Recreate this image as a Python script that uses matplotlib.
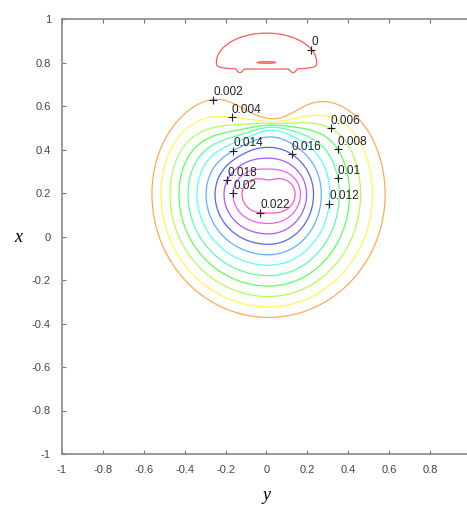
import numpy as np
import matplotlib
matplotlib.use("Agg")
import matplotlib.pyplot as plt
import matplotlib.ticker as mticker

plt.rcParams['font.family'] = ['Liberation Sans', 'DejaVu Sans']
plt.rcParams['axes.unicode_minus'] = False

# contour levels shown in the figure
levels = [0, 0.002, 0.004, 0.006, 0.008, 0.010, 0.012, 0.014, 0.016, 0.018, 0.020, 0.022]
level_text = ['0', '0.002', '0.004', '0.006', '0.008', '0.01', '0.012',
              '0.014', '0.016', '0.018', '0.02', '0.022']

# where each label sits (horizontal y, vertical x)
label_y = [0.22, -0.26, -0.17, 0.32, 0.36, 0.36, 0.31, -0.17, 0.13, -0.21, -0.17, -0.03]
label_x = [0.86, 0.63, 0.55, 0.51, 0.41, 0.27, 0.15, 0.41, 0.39, 0.27, 0.20, 0.12]

# level curves, per side: right, left, top, bottom
center = (0.01, 0.195)
inner_r = [0.13, 0.13, 0.065, 0.087]      # distance of the 0.022 curve
step_a = [0.024, 0.044, 0.05, 0.048]      # gap between curves
step_b = [0.002, 0.0, 0.0, 0.0]           # growth of the gap outward

# the wall on the upper side (sides / middle)
wall_mid_y = 0.03
wall_mid_w = 0.15
wall_reach = 0.4
wall_depth = 0.95
wall_x = [0.515, 0.52]
wall_tilt = 0.1
wall_soft = [0.05, 0.012]

# the 0 curve near the top
hole_c = (0.0, 0.80)
hole_w = 0.245
hole_up, hole_down = 0.135, 0.03
dash_len, dash_thick = 0.05, 0.004
feet_y = [-0.13, 0.13]
feet_x = 0.765
feet_r = 0.012

yy = np.linspace(-1, 1, 801)
xx = np.linspace(-1, 1, 801)
Y, X = np.meshgrid(yy, xx)

dh = Y - center[0]
dv = X - center[1]
r = np.sqrt(dh ** 2 + dv ** 2) + 1e-12
c2 = dh ** 2 / r ** 2
s2 = dv ** 2 / r ** 2

def side(p):
    return c2 * np.where(dh > 0, p[0], p[1]) + s2 * np.where(dv > 0, p[2], p[3])

r0 = side(inner_r)
sa = side(step_a)
sb = side(step_b)
q = sa ** 2 + 4 * sb * (r - r0)
n = 2 * (r - r0) / (sa + np.sqrt(np.maximum(q, 0)))
Z = 0.022 - 0.002 * n
eps = 0.0004
Z = np.where(Z / eps > 60, Z, eps * np.log1p(np.exp(np.clip(Z / eps, -700, 60))))

wgt = np.exp(-((Y - wall_mid_y) / wall_mid_w) ** 2)
m = wall_depth * np.exp(-((Y - wall_mid_y) / wall_reach) ** 2)
vw = (wall_x[0] + wall_tilt * Y) * (1 - wgt) + wall_x[1] * wgt
t = wall_soft[0] * (1 - wgt) + wall_soft[1] * wgt
Z = Z * (1 - m / (1 + np.exp(-(X - vw) / t)))

hy = (Y - hole_c[0]) / hole_w
hx = X - hole_c[1]
rho = np.where(hx > 0, np.sqrt(hy ** 2 + (hx / hole_up) ** 2),
               (hy ** 4 + (hx / hole_down) ** 4) ** 0.25)
g = 1 - 2 * np.exp(-rho ** 2 * np.log(2))
g = g + 2.2 * np.exp(-((Y - hole_c[0]) / dash_len) ** 2 - ((X - hole_c[1]) / dash_thick) ** 2)
for fy in feet_y:
    g = g - 1.5 * np.exp(-((Y - fy) ** 2 + (X - feet_x) ** 2) / feet_r ** 2)
Z = Z * g

cmap = plt.get_cmap('hsv')
colors = [cmap(i / 12) for i in range(12)]

fig = plt.figure(figsize=(4.67, 5.09), dpi=100)
ax = fig.add_axes([62 / 467, 55 / 509, 409 / 467, 435 / 509])

cs = ax.contour(Y, X, Z, levels=levels, colors=colors, linewidths=0.9, alpha=0.65)

# labels: '+' on the curve, text up and to the right
for i, lev in enumerate(levels):
    best = None
    bd = 1e9
    for seg in cs.allsegs[i]:
        if len(seg) == 0:
            continue
        d = (seg[:, 0] - label_y[i]) ** 2 + (seg[:, 1] - label_x[i]) ** 2
        k = np.argmin(d)
        if d[k] < bd:
            bd = d[k]
            best = seg[k]
    if best is None:
        continue
    ax.plot(best[0], best[1], marker='+', color='#222222', ms=6, mew=0.8)
    ax.annotate(level_text[i], (best[0], best[1]), xytext=(0, 1),
                textcoords='offset points', ha='left', va='bottom',
                fontsize=8.5, color='#222222')

ax.set_xlim(-1, 1)
ax.set_ylim(-1, 1)
ax.set_xticks(np.arange(-1, 0.81, 0.2))
ax.set_yticks(np.arange(-1, 1.01, 0.2))
fmt = mticker.FuncFormatter(lambda v, p: '%g' % (round(v, 2) + 0.0))
ax.xaxis.set_major_formatter(fmt)
ax.yaxis.set_major_formatter(fmt)
ax.tick_params(direction='in', length=3, width=0.8, colors='#777777',
               labelcolor='#444444', labelsize=8, pad=8)
ax.tick_params(top=True, right=True)
for s in ax.spines.values():
    s.set_color('#888888')
    s.set_linewidth(1.2)

ax.set_xlabel('y', family='Liberation Serif', style='italic', fontsize=13,
              va='center')
ax.set_ylabel('x', family='Liberation Serif', style='italic', fontsize=13,
              rotation=0, va='center', ha='center')
ax.xaxis.set_label_coords(0.5, -0.095)
ax.yaxis.set_label_coords(-0.108, 0.497)

fig.savefig('out.png', dpi=100)
